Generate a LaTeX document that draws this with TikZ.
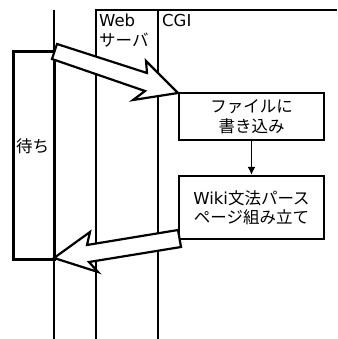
\documentclass[tikz,border=0pt]{standalone}
\usepackage{fontspec}
\setmainfont{DejaVu Sans}
\newfontfamily\jp{Noto Sans CJK JP}
\usetikzlibrary{arrows.meta}
\begin{document}
\begin{tikzpicture}[x=1pt,y=-1pt,
  lifeline/.style={line width=1.8pt},
  procbox/.style={draw,line width=2.2pt,minimum width=145pt,minimum height=47pt,inner sep=0pt,align=center,
    font=\fontsize{16.5pt}{19.5pt}\selectfont},
  lbl/.style={inner sep=0pt,anchor=north west,align=left,font=\fontsize{16.5pt}{20pt}\selectfont},
  fatarrow/.style={draw,fill=white,line width=2.2pt,line join=miter}]
\useasboundingbox (0,0) rectangle (337,339);
% lanes
\draw[lifeline] (54,10) -- (54,339);
\draw[lifeline] (96,339) -- (96,10) -- (337,10);
\draw[lifeline] (158,10) -- (158,339);
\node[lbl] (web) at (99,14) {Web\\{\jp サーバ}};
\node[lbl] (cgi) at (162,14) {CGI};
% wait box
\draw[line width=3pt] (54,52) -- (13,52) -- (13,259) -- (54,259) -- cycle;
\node[lbl,anchor=west] (wait) at (16,146) {\jp 待ち};
% process boxes
\node[procbox] (b1) at (251.5,116.5) {\jp ファイルに\\\jp 書き込み};
\node[procbox,minimum height=63pt] (b2) at (251.5,207.5) {Wiki{\jp 文法パース}\\\jp ページ組み立て};
\draw[line width=1.8pt,-{Latex[length=8pt,width=8pt]}] (b1) -- (b2);
% fat arrows
\draw[fatarrow] (57,44) -- (147,73) -- (146,61) -- (178,93) -- (133,100) -- (145,91) -- (52,59) -- cycle;
\draw[fatarrow] (178,230) -- (87,245) -- (90,232) -- (54,258) -- (98,272) -- (89,262) -- (181,247) -- cycle;
\end{tikzpicture}
\end{document}
